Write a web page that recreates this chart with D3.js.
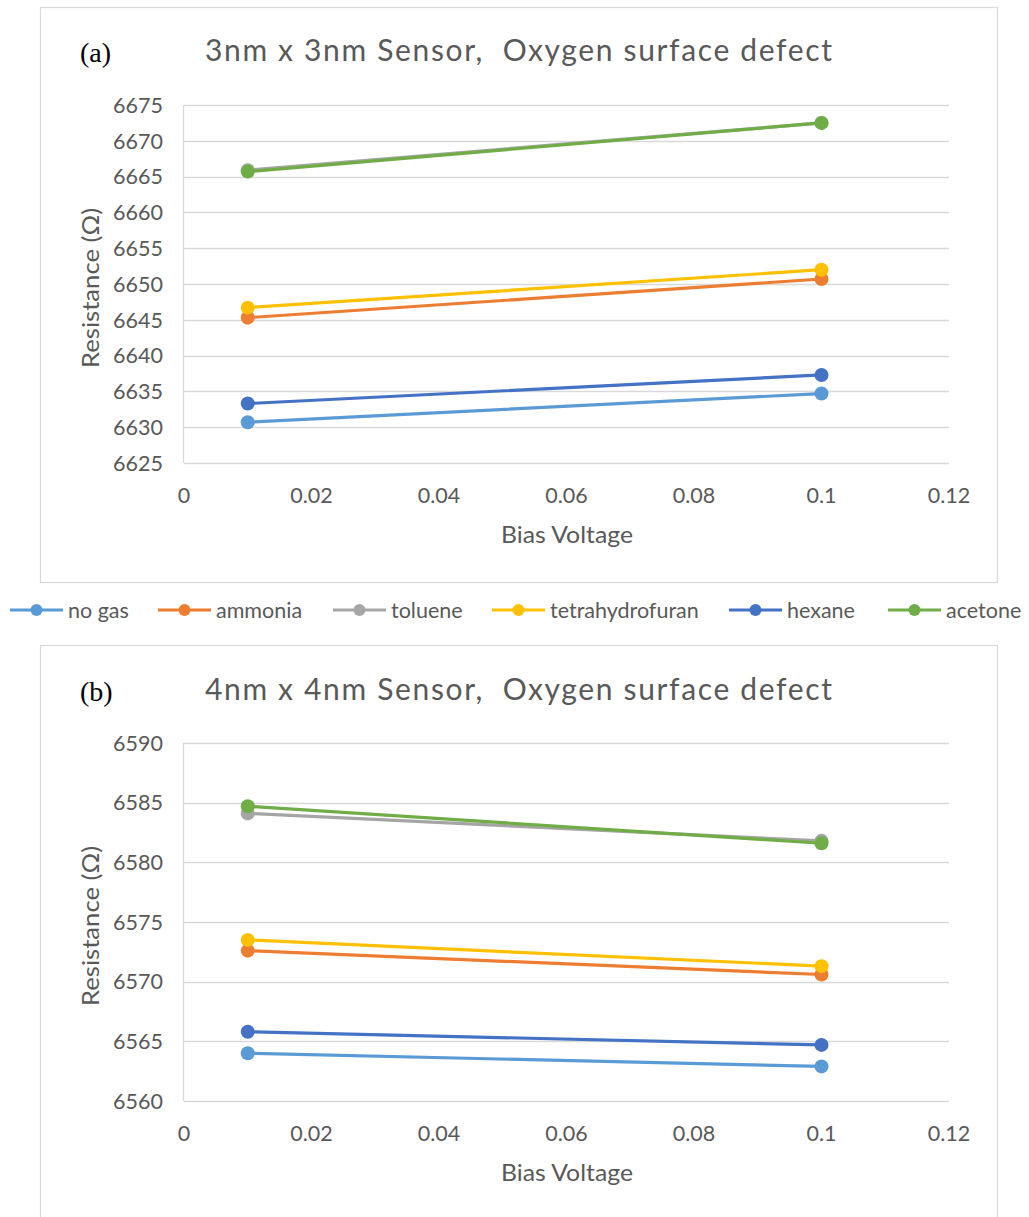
<!DOCTYPE html>
<html>
<head>
<meta charset="utf-8">
<script src="https://cdn.jsdelivr.net/npm/d3@7/dist/d3.min.js"></script>
<style>
  html, body { margin: 0; padding: 0; background: #fff; }
  svg { display: block; }
  text { font-family: "Lato", "Open Sans", "DejaVu Sans", sans-serif; fill: #595959; }
</style>
</head>
<body>
<svg id="chart" width="1029" height="1217"></svg>
<script>
// ---------- data ----------
const seriesNames = ["no gas", "ammonia", "toluene", "tetrahydrofuran", "hexane", "acetone"];
const seriesColors = ["#5B9BD5", "#ED7D31", "#A5A5A5", "#FFC000", "#4472C4", "#70AD47"];
const biasVoltages = [0.01, 0.1];
const xTicks = [0, 0.02, 0.04, 0.06, 0.08, 0.1, 0.12];

// (a) 3nm x 3nm sensor, values per series at [0.01, 0.1]
const valuesA = [
  [6630.7, 6634.7],   // no gas
  [6645.3, 6650.7],   // ammonia
  [6665.9, 6672.5],   // toluene
  [6646.7, 6652.0],   // tetrahydrofuran
  [6633.3, 6637.3],   // hexane
  [6665.7, 6672.5]    // acetone
];
const yTicksA = [6625, 6630, 6635, 6640, 6645, 6650, 6655, 6660, 6665, 6670, 6675];

// (b) 4nm x 4nm sensor
const valuesB = [
  [6564.0, 6562.9],   // no gas
  [6572.6, 6570.6],   // ammonia
  [6584.1, 6581.8],   // toluene
  [6573.5, 6571.3],   // tetrahydrofuran
  [6565.8, 6564.7],   // hexane
  [6584.7, 6581.6]    // acetone
];
const yTicksB = [6560, 6565, 6570, 6575, 6580, 6585, 6590];

const titleA = "3nm x 3nm Sensor,  Oxygen surface defect";
const titleB = "4nm x 4nm Sensor,  Oxygen surface defect";

// ---------- drawing ----------
const svg = d3.select("#chart");
const grid = "#d9d9d9";

function panel(cfg) {
  const g = svg.append("g");
  // outer border
  g.append("rect")
    .attr("x", 40.5).attr("y", cfg.boxTop + 0.5)
    .attr("width", 957).attr("height", cfg.boxH)
    .attr("fill", "none").attr("stroke", grid).attr("stroke-width", 1.2);

  const x = d3.scaleLinear().domain([0, 0.12]).range([184, 949]);
  const y = d3.scaleLinear().domain([cfg.yTicks[0], cfg.yTicks[cfg.yTicks.length - 1]])
    .range([cfg.plotBottom, cfg.plotTop]);

  // horizontal gridlines
  g.append("g").selectAll("line").data(cfg.yTicks).join("line")
    .attr("x1", x(0)).attr("x2", x(0.12))
    .attr("y1", d => Math.round(y(d)) + 0.5).attr("y2", d => Math.round(y(d)) + 0.5)
    .attr("stroke", grid).attr("stroke-width", 1.3);
  // left axis line
  g.append("line")
    .attr("x1", x(0) - 0.5).attr("x2", x(0) - 0.5)
    .attr("y1", y.range()[1]).attr("y2", y.range()[0])
    .attr("stroke", grid).attr("stroke-width", 1.3);

  // y tick labels
  g.append("g").selectAll("text").data(cfg.yTicks).join("text")
    .attr("x", 163).attr("y", d => y(d))
    .attr("dy", "0.36em").attr("text-anchor", "end")
    .style("font-size", "21.5px")
    .text(d => d);
  // x tick labels
  g.append("g").selectAll("text").data(xTicks).join("text")
    .attr("x", d => x(d)).attr("y", cfg.plotBottom + 40)
    .attr("text-anchor", "middle")
    .style("font-size", "21.5px")
    .text(d => d3.format("~g")(d));

  // axis titles
  g.append("text")
    .attr("x", 567).attr("y", cfg.plotBottom + 80)
    .attr("text-anchor", "middle").style("font-size", "23px")
    .attr("textLength", 132).attr("lengthAdjust", "spacingAndGlyphs")
    .text("Bias Voltage");
  g.append("text")
    .attr("transform", `translate(99,${(cfg.plotTop + cfg.plotBottom) / 2 + 4}) rotate(-90)`)
    .attr("text-anchor", "middle").style("font-size", "23px")
    .attr("textLength", 160).attr("lengthAdjust", "spacingAndGlyphs")
    .text("Resistance (Ω)");

  // chart title
  g.append("text")
    .attr("x", 205).attr("y", cfg.titleY)
    .style("font-size", "30px")
    .attr("textLength", 627).attr("lengthAdjust", "spacing")
    .style("white-space", "pre")
    .text(cfg.title);
  // panel tag
  g.append("text")
    .attr("x", 80).attr("y", cfg.titleY + 1)
    .style("font-family", "'Liberation Serif', 'DejaVu Serif', serif")
    .style("font-size", "28px").style("fill", "#000")
    .text(cfg.tag);

  // series
  const line = d3.line().x((d, i) => x(biasVoltages[i])).y(d => y(d));
  cfg.values.forEach((vals, si) => {
    const sg = g.append("g");
    sg.append("path").datum(vals)
      .attr("d", line).attr("fill", "none")
      .attr("stroke", seriesColors[si]).attr("stroke-width", 3.2)
      .attr("stroke-linecap", "round");
    sg.selectAll("circle").data(vals).join("circle")
      .attr("cx", (d, i) => x(biasVoltages[i])).attr("cy", d => y(d))
      .attr("r", 7).attr("fill", seriesColors[si]);
  });
}

panel({ boxTop: 7, boxH: 575, plotTop: 105, plotBottom: 463, yTicks: yTicksA,
        values: valuesA, title: titleA, titleY: 61, tag: "(a)" });
panel({ boxTop: 645, boxH: 600, plotTop: 743, plotBottom: 1101, yTicks: yTicksB,
        values: valuesB, title: titleB, titleY: 700, tag: "(b)" });

// ---------- legend ----------
const legendX = [10, 158, 333, 492, 729, 888];
const legendY = 610;
const lg = svg.append("g");
seriesNames.forEach((name, i) => {
  const x0 = legendX[i];
  lg.append("line").attr("x1", x0).attr("x2", x0 + 53)
    .attr("y1", legendY).attr("y2", legendY)
    .attr("stroke", seriesColors[i]).attr("stroke-width", 3);
  lg.append("circle").attr("cx", x0 + 26.5).attr("cy", legendY).attr("r", 6)
    .attr("fill", seriesColors[i]);
  lg.append("text").attr("x", x0 + 58).attr("y", legendY).attr("dy", "0.35em")
    .style("font-size", "21.5px").text(name);
});
</script>
</body>
</html>
